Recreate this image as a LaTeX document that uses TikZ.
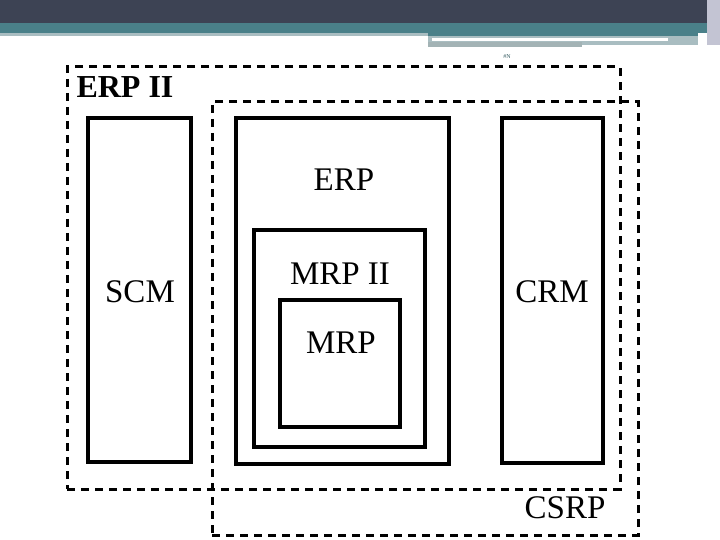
\documentclass[tikz,border=0pt]{standalone}
\usepackage{fontspec}
\setmainfont{Liberation Serif}
\usetikzlibrary{positioning}
\definecolor{hdrdark}{HTML}{3D4354}
\definecolor{hdrteal}{HTML}{4A8089}
\definecolor{hdrlight}{HTML}{A9BDC1}
\definecolor{hdrgray}{HTML}{A3B3B5}
\definecolor{hdrlav}{HTML}{C3C4D3}

\begin{document}
\begin{tikzpicture}[x=1pt, y=-1pt,
  frame/.style = {draw, line width=3.2pt, inner sep=0pt},
  zone/.style = {draw, line width=3pt, dash pattern=on 8pt off 6pt, inner sep=0pt},
  lbl/.style = {inner sep=0pt, font=\fontsize{33}{35}\selectfont}]
\useasboundingbox (0,0) rectangle (720,540);
% slide header
\fill[hdrdark] (0,0) rectangle (707,23);
\fill[hdrteal] (0,23) rectangle (707,33);
\fill[hdrlight] (0,33) rectangle (428,36);
\fill[hdrteal] (428,33) rectangle (698,36);
\fill[hdrlight] (428,36) rectangle (698,45);
\fill[white] (432,38) rectangle (668,41);
\fill[hdrgray] (428,42) rectangle (582,47);
\fill[hdrlav] (707,0) rectangle (720,45);
\node[inner sep=0pt, text=hdrteal!70!black, font=\fontsize{6}{6}\selectfont] (num) at (507,57) {\#N};
% outer zones
\node[zone, minimum width=553pt, minimum height=422pt] (erp2) at (343.5,278) {};
\node[zone, minimum width=426pt, minimum height=433pt] (csrp) at (425,318.5) {};
\node[lbl, font=\fontsize{32}{34}\selectfont\bfseries] (erp2txt) at (125,87) {ERP II};
\node[lbl] (csrptxt) at (565,508) {CSRP};
% modules
\node[frame, minimum width=103pt, minimum height=344pt] (scm) at (139.5,290) {};
\node[frame, minimum width=213pt, minimum height=346pt] (erp) at (342.5,291) {};
\node[frame, minimum width=171pt, minimum height=217pt] (mrp2) at (339.5,338.5) {};
\node[frame, minimum width=120pt, minimum height=127pt] (mrp) at (340,363.5) {};
\node[frame, minimum width=101pt, minimum height=345pt] (crm) at (552.5,290.5) {};
\node[lbl] (scmtxt) at (140,292) {SCM};
\node[lbl] (crmtxt) at (552,292) {CRM};
\node[lbl] (erptxt) at (344,180) {ERP};
\node[lbl] (mrp2txt) at (340,274) {MRP II};
\node[lbl] (mrptxt) at (341,343) {MRP};
\end{tikzpicture}
\end{document}
